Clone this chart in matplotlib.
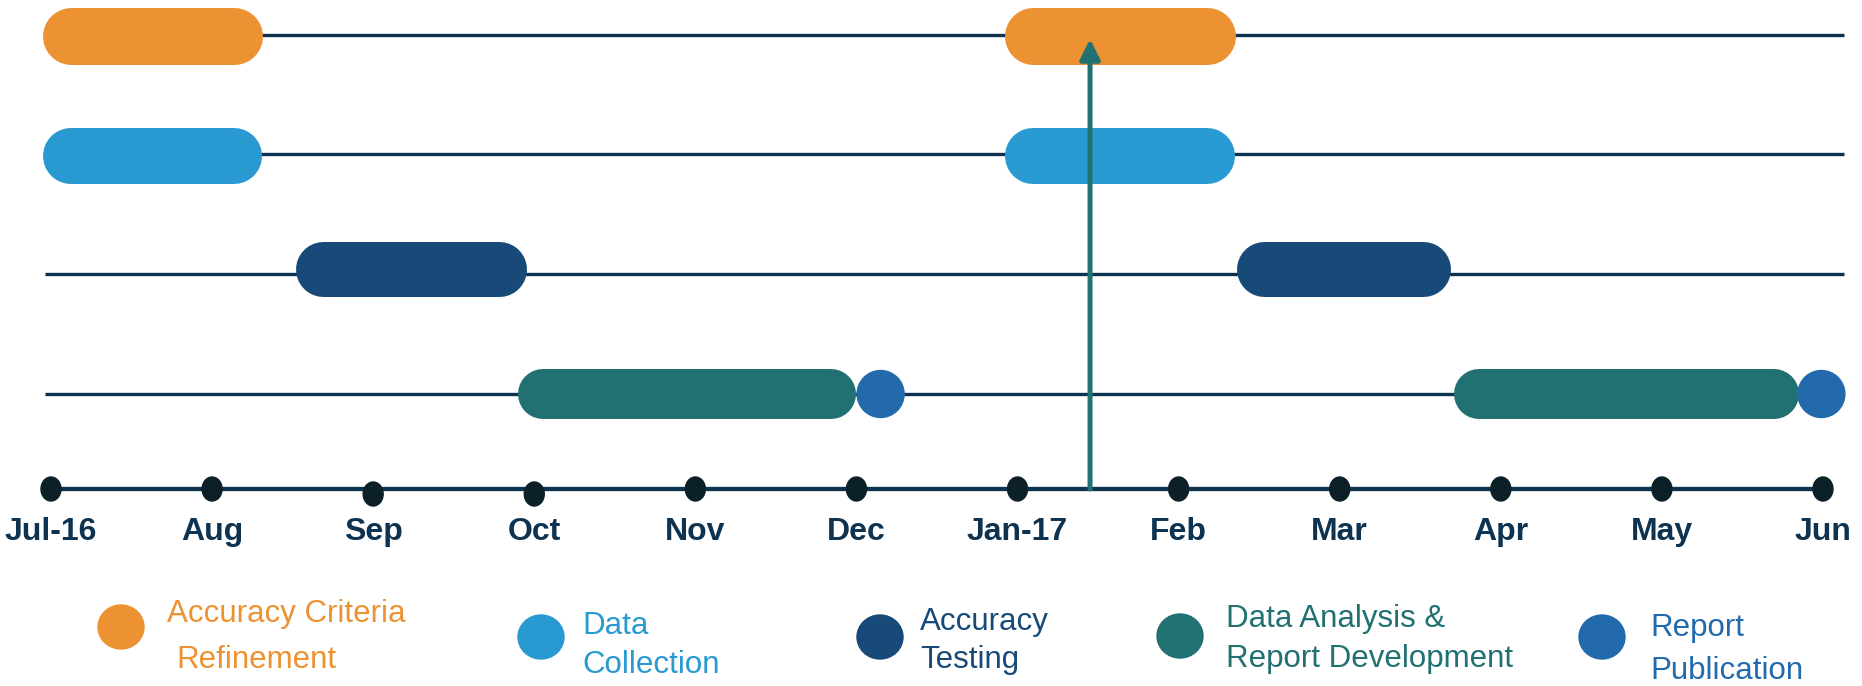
import matplotlib
matplotlib.use('Agg')
import matplotlib.pyplot as plt
from matplotlib.patches import Ellipse

# month axis
months = ['Jul-16', 'Aug', 'Sep', 'Oct', 'Nov', 'Dec',
          'Jan-17', 'Feb', 'Mar', 'Apr', 'May', 'Jun']
dot_shift = [0, 0, 5, 5, 0, 0, 0, 0, 0, 0, 0, 0]   # Sep/Oct dots sit a bit lower

# task periods (start, end) in months from Jul-16
criteria_periods = [(-0.05, 1.31), (5.92, 7.35)]
collection_periods = [(-0.05, 1.31), (5.92, 7.35)]
testing_periods = [(1.52, 2.95), (7.36, 8.69)]
analysis_periods = [(2.90, 5.00), (8.71, 10.85)]
publication_points = [5.15, 10.99]
current_month = 6.45

legend_labels = [('Accuracy Criteria', 'Refinement'),
                 ('Data', 'Collection'),
                 ('Accuracy', 'Testing'),
                 ('Data Analysis &', 'Report Development'),
                 ('Report', 'Publication')]

c_orange = '#EC9232'
c_light = '#2899D1'
c_dark = '#174A78'
c_teal = '#217072'
c_pub = '#226AAB'
c_line = '#0E3350'
c_dot = '#0B2027'
colors = [c_orange, c_light, c_dark, c_teal, c_pub]

#layout (pixels)
W, H = 1862, 686
x0_px = 51.0          # Jul-16 position
ppm = 161.09          # pixels per month
row_line_y = [35, 154, 274, 394]
row_bar_y = [36, 156, 269, 394]
row_bar_h = [57, 56, 55, 50]
axis_y = 489

plt.rcParams['font.family'] = ['Liberation Sans', 'DejaVu Sans']

fig = plt.figure(figsize=(W / 100, H / 100), dpi=100)
ax = fig.add_axes([0, 0, 1, 1])
ax.set_xlim(-x0_px / ppm, (W - x0_px) / ppm)
ax.set_ylim(H, 0)
ax.axis('off')

# row lines
for y in row_line_y:
    ax.plot([-0.04, 11.13], [y, y], color=c_line, lw=2.4, zorder=1, solid_capstyle='butt')

# pill bars
rows = [criteria_periods, collection_periods, testing_periods, analysis_periods]
for i, periods in enumerate(rows):
    h = row_bar_h[i]
    r = h / 2 / ppm
    for s, e in periods:
        ax.plot([s + r, e - r], [row_bar_y[i], row_bar_y[i]], color=colors[i],
                lw=h * 0.72, solid_capstyle='round', zorder=3)

# publication dots
for p in publication_points:
    ax.add_patch(Ellipse((p, row_line_y[3]), 47 / ppm, 47, color=c_pub, zorder=4))

# timeline axis
ax.plot([0, len(months) - 1], [axis_y, axis_y], color=c_line, lw=3.1, zorder=2)
for i, m in enumerate(months):
    ax.add_patch(Ellipse((i, axis_y + dot_shift[i]), 20 / ppm, 24, color=c_dot, zorder=3))
    ax.text(i, 540, m, ha='center', va='baseline', fontsize=23, fontweight='bold', color=c_line)

# current month arrow
ax.annotate('', xy=(current_month, 39), xytext=(current_month, axis_y),
            arrowprops=dict(arrowstyle='-|>,head_length=0.8,head_width=0.4', color=c_teal,
                            lw=3.6, mutation_scale=15, shrinkA=0, shrinkB=0), zorder=6)

# legend
lax = fig.add_axes([0, 0, 1, 1])
lax.set_xlim(0, W)
lax.set_ylim(H, 0)
lax.axis('off')
leg_circles = [(121, 627), (541, 637), (880, 637), (1180, 636), (1602, 637)]
leg_text_x = [(167, 176), (582, 582), (920, 920), (1226, 1226), (1650, 1650)]
leg_text_y = [(622, 668), (634, 673), (630, 668), (627, 667), (636, 679)]
for i in range(len(legend_labels)):
    cx, cy = leg_circles[i]
    lax.add_patch(Ellipse((cx, cy), 46, 44, color=colors[i]))
    for j in range(2):
        lax.text(leg_text_x[i][j], leg_text_y[i][j], legend_labels[i][j], ha='left',
                 va='baseline', fontsize=22.5, color=colors[i])

fig.savefig('out.png', dpi=100)
